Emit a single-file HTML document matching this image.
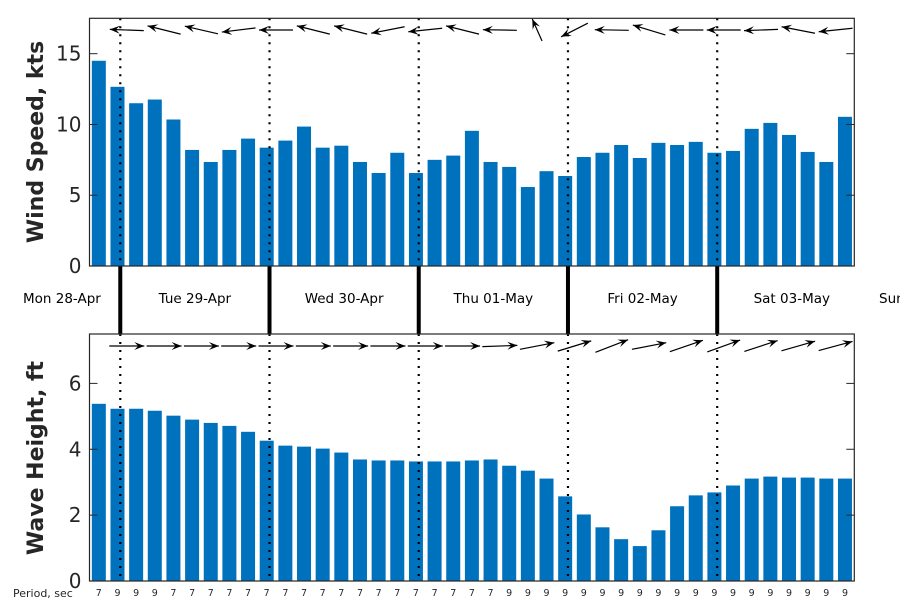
<!DOCTYPE html>
<html><head><meta charset="utf-8"><style>
body{margin:0;background:#fff}
svg{display:block;font-family:"DejaVu Sans","Liberation Sans",sans-serif}
</style></head><body>
<svg id="chart" width="900" height="600" viewBox="0 0 900 600" xmlns="http://www.w3.org/2000/svg">
<rect width="900" height="600" fill="#fff"/>
</svg>
<script>
const windSpeed=[14.5,12.66,11.5,11.76,10.35,8.2,7.35,8.2,9.0,8.36,8.86,9.85,8.36,8.5,7.35,6.57,8.0,6.57,7.5,7.8,9.55,7.35,7.0,5.58,6.7,6.36,7.7,8.0,8.55,7.63,8.7,8.55,8.77,8.0,8.13,9.69,10.11,9.26,8.06,7.35,10.54];
const waveHeight=[5.38,5.23,5.23,5.17,5.02,4.9,4.8,4.71,4.53,4.26,4.11,4.08,4.02,3.9,3.69,3.66,3.66,3.63,3.63,3.63,3.66,3.69,3.5,3.35,3.11,2.57,2.02,1.63,1.27,1.06,1.54,2.27,2.6,2.69,2.9,3.11,3.17,3.14,3.14,3.11,3.11];
const periods=[7,9,9,9,7,7,7,7,7,7,7,7,7,7,7,7,7,7,7,7,7,7,9,9,9,9,9,9,9,9,9,9,9,9,9,9,9,9,9,9,9];
const windDir=[178,166,167,187,180,166,166,191,186,166,179,114,207,179,163,180,180,182,169,186];
const windLen=[34,34,34,34,34,34,34,34,34,34,34,24,30,34,34,34,34,34,34,34];
const waveDir=[0,0,0,0,0,0,0,0,0,0,2,11,17,21,11,19,20,18,16,15];
const dayLabels=["Mon 28-Apr","Tue 29-Apr","Wed 30-Apr","Thu 01-May","Fri 02-May","Sat 03-May","Sun 04-May"];
const windTicks=[0,5,10,15];
const waveTicks=[0,2,4,6];

const NS="http://www.w3.org/2000/svg";
const svg=document.getElementById('chart');
function mk(tag,attrs,parent){const e=document.createElementNS(NS,tag);for(const k in attrs)e.setAttribute(k,attrs[k]);(parent||svg).appendChild(e);return e;}
const X0=89.5,X1=854.3,N=windSpeed.length,step=(X1-X0)/N;
function x(i){return X0+(i+0.5)*step;}
const top1=18.3,bot1=266,max1=17.5;
const top2=334,bot2=581,max2=7.5;
function y1(v){return bot1-v/max1*(bot1-top1);}
function y2(v){return bot2-v/max2*(bot2-top2);}

// bars
windSpeed.forEach((v,i)=>{
 const r=mk('rect',{x:x(i)-7,y:y1(v),width:14,height:bot1-y1(v),fill:'#0072BD'});
 
 
});
waveHeight.forEach((v,i)=>{
 const r=mk('rect',{x:x(i)-7,y:y2(v),width:14,height:bot2-y2(v),fill:'#0072BD'});
 
 
});
// day lines
for(let k=0;k<5;k++){
 const lx=x(1+8*k)+2.8;
 [[top1,bot1],[top2,bot2]].forEach(([a,b])=>{
  const l=mk('line',{x1:lx,y1:a,x2:lx,y2:b,stroke:'#000','stroke-width':2.2,'stroke-dasharray':'2 6'});
  
  
 });
 const t=mk('line',{x1:lx,y1:bot1,x2:lx,y2:top2,stroke:'#000','stroke-width':4});
 
 
}
// axes frames
[[top1,bot1],[top2,bot2]].forEach(([a,b],j)=>{
 const r=mk('rect',{x:X0,y:a,width:X1-X0,height:b-a,fill:'none',stroke:'#262626','stroke-width':1.2});
 
 
});
function ticks(arr,yf,name){
 arr.forEach(v=>{
  const yy=yf(v);
  mk('line',{x1:X0,y1:yy,x2:X0+8,y2:yy,stroke:'#262626','stroke-width':1});
  mk('line',{x1:X1-8,y1:yy,x2:X1,y2:yy,stroke:'#262626','stroke-width':1});
  const t=mk('text',{x:X0-8,y:yy+7,'text-anchor':'end','font-size':20,fill:'#262626'});
  t.textContent=v;
  
  
 });
}
ticks(windTicks,y1,'wind-tick-label');
ticks(waveTicks,y2,'wave-tick-label');
// arrows
function arrow(cx,cy,deg,len,name){
 const a=deg*Math.PI/180,dx=Math.cos(a)*len/2,dy=-Math.sin(a)*len/2;
 const hx=cx+dx,hy=cy+dy,tx=cx-dx,ty=cy-dy;
 const g=mk('g',{});
 
 
 mk('line',{x1:tx,y1:ty,x2:hx,y2:hy,stroke:'#000','stroke-width':1.2},g);
 const ux=Math.cos(a),uy=-Math.sin(a),px=-uy,py=ux,L=10,W=4;
 const bx=hx-ux*L,by=hy-uy*L;
 mk('path',{d:`M${hx},${hy}L${bx+px*W},${by+py*W}L${hx-ux*L*0.6},${hy-uy*L*0.6}L${bx-px*W},${by-py*W}Z`,fill:'#000'},g);
}
windDir.forEach((d,k)=>arrow(x(1+2*k)+9.3,30,d,windLen[k],'wind-direction-arrow'));
waveDir.forEach((d,k)=>arrow(x(1+2*k)+9.3,346,d,35,'wave-direction-arrow'));
// day labels
dayLabels.forEach((s,k)=>{
 let cx=x(1+8*(k-1))+2.8+74.6,anchor='middle';
 if(k===0){cx=23;anchor='start';}
 if(k===6){cx=879;anchor='start';}
 const t=mk('text',{x:cx,y:303,'text-anchor':anchor,'font-size':13.5,fill:'#000'});
 t.textContent=s;
 
 
});
// periods
periods.forEach((p,i)=>{
 const t=mk('text',{x:x(i),y:596,'text-anchor':'middle','font-size':9.5,fill:'#262626'});
 t.textContent=p;
 
 
});
</script>
<svg style="position:absolute;left:0;top:0" width="900" height="600">
<text transform="translate(43,142) rotate(-90)" text-anchor="middle" font-size="22" font-weight="bold" fill="#262626" font-family="DejaVu Sans, Liberation Sans, sans-serif">Wind Speed, kts</text>
<text transform="translate(43,458) rotate(-90)" text-anchor="middle" font-size="22" font-weight="bold" fill="#262626" font-family="DejaVu Sans, Liberation Sans, sans-serif">Wave Height, ft</text>
<text x="13" y="597" font-size="11" fill="#262626" font-family="DejaVu Sans, Liberation Sans, sans-serif">Period, sec</text>
</svg>
</body></html>
